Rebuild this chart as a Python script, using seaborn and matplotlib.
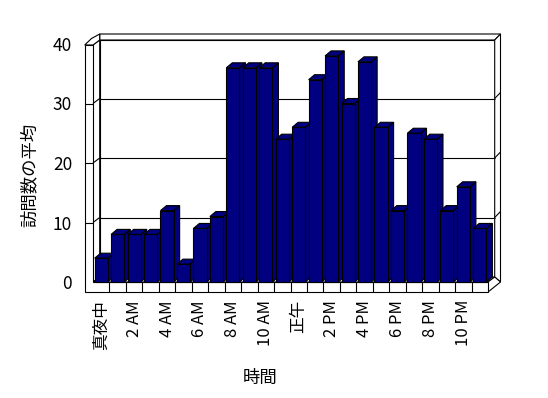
import matplotlib
matplotlib.use("Agg")
import matplotlib.pyplot as plt
import seaborn as sns
import pandas as pd
from matplotlib.patches import Polygon

# ---- data ----
hour_labels = ["真夜中", "1 AM", "2 AM", "3 AM", "4 AM", "5 AM", "6 AM", "7 AM",
               "8 AM", "9 AM", "10 AM", "11 AM", "正午", "1 PM", "2 PM", "3 PM",
               "4 PM", "5 PM", "6 PM", "7 PM", "8 PM", "9 PM", "10 PM", "11 PM"]
avg_visits = [4, 8, 8, 8, 12, 3, 9, 11, 36, 36, 36, 24,
              26, 34, 38, 30, 37, 26, 12, 25, 24, 12, 16, 9]
y_ticks = [0, 10, 20, 30, 40]
x_title = "時間"
y_title = "訪問数の平均"

sns.set_style("white")
plt.rcParams["font.family"] = ["Noto Sans CJK JP", "DejaVu Sans"]
plt.rcParams["text.color"] = "black"
plt.rcParams["axes.labelcolor"] = "black"
plt.rcParams["xtick.color"] = "black"
plt.rcParams["ytick.color"] = "black"

W, H = 548, 398
fig = plt.figure(figsize=(W / 100, H / 100), dpi=100)
ax = fig.add_axes([93 / W, (H - 282) / H, 395 / W, 238 / H])

df = pd.DataFrame({"hour": hour_labels, "visits": avg_visits})
FACE = "#000080"
sns.barplot(data=df, x="hour", y="visits", color=FACE, saturation=1,
            width=0.8, edgecolor="black", linewidth=0.8, ax=ax)

X0, X1 = -0.5, len(hour_labels) - 0.5
Y0, Y1 = y_ticks[0], y_ticks[-1]
ax.set_xlim(X0, X1)
ax.set_ylim(Y0, Y1)
for s in ax.spines.values():
    s.set_visible(False)

bb = ax.get_window_extent()
ux = (X1 - X0) / bb.width
uy = (Y1 - Y0) / bb.height


def P(xd, yd, px=0.0, py=0.0):
    return (xd + px * ux, yd + py * uy)


LW = 0.8


def poly(pts, z, fc="white"):
    ax.add_patch(Polygon(pts, closed=True, facecolor=fc, edgecolor="black",
                         linewidth=LW, zorder=z, clip_on=False, joinstyle="miter"))


def line(a, b, z):
    ax.plot([a[0], b[0]], [a[1], b[1]], color="black", lw=LW, zorder=z,
            clip_on=False, solid_capstyle="butt")


# depth offsets (pixels)
BDX, BDY = 6.7, 5.0     # front plane -> back wall plane
TDX, TDY = 5.8, 6.0     # back wall thickness
LWT = 8.3               # left wall thickness
FT = 10.0               # floor thickness

# back wall front surface
poly([P(X0, Y0, BDX, BDY), P(X1, Y0, BDX, BDY), P(X1, Y1, BDX, BDY - 1),
      P(X0, Y1, BDX, BDY - 1)], 1)
# back wall top
poly([P(X0, Y1, BDX, BDY - 1), P(X1, Y1, BDX, BDY - 1),
      P(X1, Y1, BDX + TDX, BDY - 1 + TDY), P(X0, Y1, BDX, BDY - 1 + TDY)], 1)
# back wall right side
poly([P(X1, Y0, BDX, BDY), P(X1, Y1, BDX, BDY - 1),
      P(X1, Y1, BDX + TDX, BDY - 1 + TDY), P(X1, Y0, BDX + TDX, 0)], 1)
# left wall inner face
poly([P(X0, Y0), P(X0, Y1, 0, -1), P(X0, Y1, BDX, BDY - 1), P(X0, Y0, BDX, BDY)], 1)
# left wall top
poly([P(X0, Y1, -LWT, -1), P(X0, Y1, 0, -1), P(X0, Y1, BDX, BDY - 1),
      P(X0, Y1, BDX, BDY - 1 + TDY), P(X0, Y1, -1.5, 5.5)], 1)
# floor top
poly([P(X0, Y0), P(X1, Y0), P(X1, Y0, BDX, BDY), P(X0, Y0, BDX, BDY)], 1)
# floor right side
poly([P(X1, Y0), P(X1, Y0, 0, -FT), P(X1, Y0, BDX + TDX, 0), P(X1, Y0, BDX, BDY)], 1)
# left wall front + floor front (L shape)
poly([P(X0, Y1, -LWT, -1), P(X0, Y1, 0, -1), P(X0, Y0), P(X1, Y0),
      P(X1, Y0, 0, -FT), P(X0, Y0, -LWT, -FT)], 2)
# floor category dividers
for k in range(1, len(hour_labels)):
    line(P(X0 + k, Y0), P(X0 + k, Y0, 0, -FT), 3)

# gridlines
for v in y_ticks[1:-1]:
    line(P(X0, v, -LWT, 0), P(X0, v), 3)
    line(P(X0, v), P(X0, v, BDX, BDY), 3)
    line(P(X0, v, BDX, BDY), P(X1, v, BDX, BDY), 3)
    line(P(X1, v, BDX, BDY), P(X1, v, BDX + TDX, BDY + TDY), 3)

# 3D bars: side & top faces derived from the seaborn bar patches
DX, DY = 6.0 * ux, 5.0 * uy
for i, p in enumerate(ax.patches[:len(avg_visits)]):
    x, w, h = p.get_x(), p.get_width(), p.get_height()
    base = 10 + 3 * i
    poly([(x + w, Y0), (x + w + DX, Y0 + DY), (x + w + DX, h + DY), (x + w, h)], base, FACE)
    poly([(x, h), (x + w, h), (x + w + DX, h + DY), (x + DX, h + DY)], base + 1, FACE)
    p.set_zorder(base + 2)
    p.set_clip_on(False)

# ticks & labels
ax.set_yticks(y_ticks)
ax.set_yticklabels([str(t) for t in y_ticks], fontsize=12.5, color="black")
ax.set_xticks(range(0, len(hour_labels), 2))
ax.set_xticklabels(hour_labels[::2], rotation=90, fontsize=12, va="top", ha="center",
                   color="black")
ax.tick_params(axis="y", length=0, pad=15)
ax.tick_params(axis="x", length=0, pad=13)
ax.grid(False)

ax.set_xlabel(x_title, fontsize=12.5, va="center", color="black")
ax.xaxis.set_label_coords((260 - 93) / 395, (282 - 378) / 238)
ax.set_ylabel(y_title, fontsize=12.5, va="center", color="black")
ax.yaxis.set_label_coords((30 - 93) / 395, (282 - 175) / 238)

fig.savefig("out.png", dpi=100)
